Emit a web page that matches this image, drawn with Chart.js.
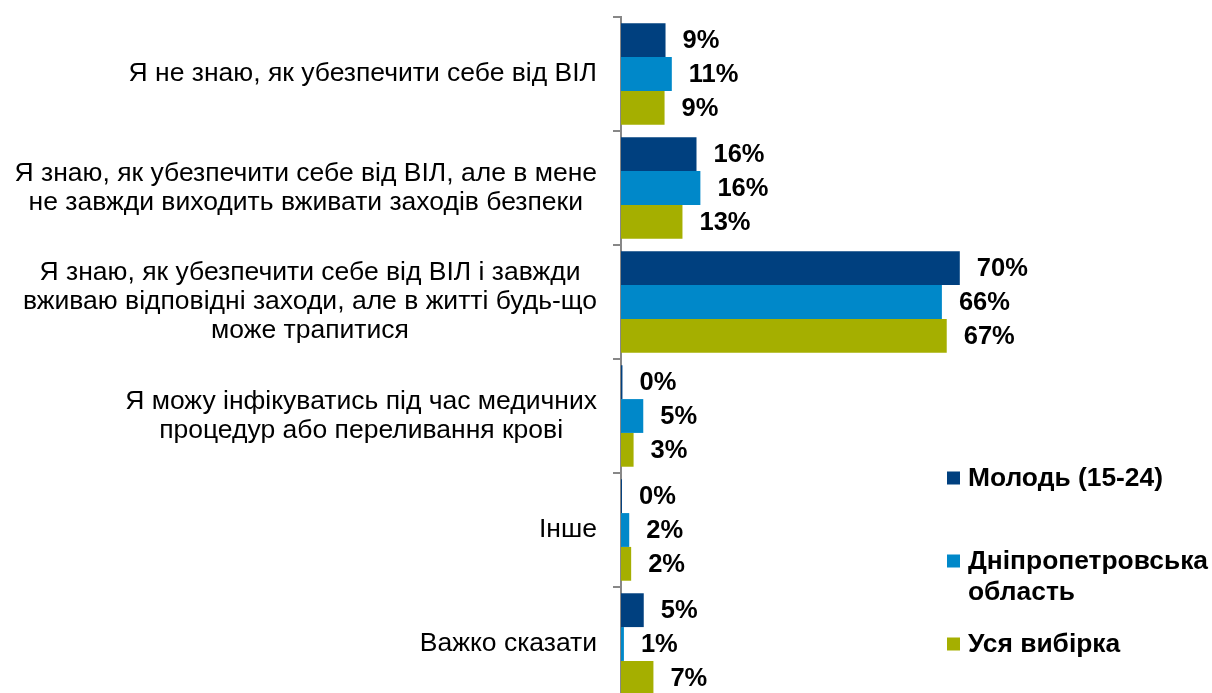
<!DOCTYPE html>
<html>
<head>
<meta charset="utf-8">
<script src="https://cdn.jsdelivr.net/npm/chart.js@4/dist/chart.umd.min.js"></script>
<style>
html,body{margin:0;padding:0;background:#fff;overflow:hidden;}
#c{display:block;}
</style>
</head>
<body>
<canvas id="c" width="1212" height="704"></canvas>
<script>
// ---- data ----
const categories = [
  ["Я не знаю, як убезпечити себе від ВІЛ"],
  ["Я знаю, як убезпечити себе від ВІЛ, але в мене", "не завжди виходить вживати заходів безпеки"],
  ["Я знаю, як убезпечити себе від ВІЛ і завжди", "вживаю відповідні заходи, але в житті будь-що", "може трапитися"],
  ["Я можу інфікуватись під час медичних", "процедур або переливання крові"],
  ["Інше"],
  ["Важко сказати"]
];
const seriesNames = ["Молодь (15-24)", "Дніпропетровська область", "Уся вибірка"];
const youth   = [9.2, 15.6, 70.0, 0.3, 0.2, 4.7];
const region  = [10.5, 16.4, 66.3, 4.6, 1.7, 0.6];
const sample  = [9.0, 12.7, 67.3, 2.6, 2.1, 6.7];
const colors  = ["#00407F", "#0088C9", "#A5AF00"];

const FONT = '"Liberation Sans", Arial, sans-serif';

const yLabelsPlugin = {
  id: 'yLabels',
  afterDraw(chart) {
    const ctx = chart.ctx, y = chart.scales.y;
    ctx.save();
    ctx.font = '26.5px ' + FONT;
    ctx.fillStyle = '#000';
    ctx.textBaseline = 'middle';
    ctx.textAlign = 'center';
    const right = 597, lh = 29;
    categories.forEach((lines, i) => {
      const cy = y.getPixelForValue(i);
      const w = Math.max(...lines.map(l => ctx.measureText(l).width));
      const cx = right - w / 2;
      const y0 = cy - (lines.length - 1) * lh / 2;
      lines.forEach((l, k) => ctx.fillText(l, cx, y0 + k * lh));
    });
    ctx.restore();
  }
};

const valueLabelsPlugin = {
  id: 'valueLabels',
  afterDatasetsDraw(chart) {
    const ctx = chart.ctx;
    ctx.save();
    ctx.font = 'bold 25.5px ' + FONT;
    ctx.fillStyle = '#000';
    ctx.textBaseline = 'middle';
    ctx.textAlign = 'left';
    chart.data.datasets.forEach((ds, di) => {
      chart.getDatasetMeta(di).data.forEach((el, i) => {
        ctx.fillText(Math.round(ds.data[i]) + '%', el.x + 17, el.y + 1);
      });
    });
    ctx.restore();
  }
};

const legendPlugin = {
  id: 'customLegend',
  afterDraw(chart) {
    const ctx = chart.ctx;
    ctx.save();
    ctx.font = 'bold 26.4px ' + FONT;
    ctx.textBaseline = 'middle';
    ctx.textAlign = 'left';
    const centers = [478, 561, 644];
    const sx = 947, tx = 968, maxW = 1212 - tx;
    chart.data.datasets.forEach((ds, i) => {
      const cy = centers[i];
      ctx.fillStyle = ds.backgroundColor;
      ctx.fillRect(sx, cy - 6.5, 13, 13);
      ctx.fillStyle = '#000';
      const words = ds.label.split(' ');
      const lines = [];
      let cur = '';
      words.forEach(w => {
        const t = cur ? cur + ' ' + w : w;
        if (ctx.measureText(t).width > maxW && cur) { lines.push(cur); cur = w; }
        else cur = t;
      });
      lines.push(cur);
      lines.forEach((l, k) => ctx.fillText(l, tx, cy + 1 + k * 31));
    });
    ctx.restore();
  }
};

new Chart(document.getElementById('c'), {
  type: 'bar',
  data: {
    labels: categories.map(l => l.join(' ')),
    datasets: [
      { label: seriesNames[0], data: youth,  backgroundColor: colors[0] },
      { label: seriesNames[1], data: region, backgroundColor: colors[1] },
      { label: seriesNames[2], data: sample, backgroundColor: colors[2] }
    ]
  },
  options: {
    indexAxis: 'y',
    responsive: false,
    animation: false,
    events: [],
    layout: { padding: { top: 17, bottom: 3, left: 0, right: 107 } },
    datasets: { bar: { categoryPercentage: 0.89, barPercentage: 1.0, borderWidth: 0 } },
    plugins: { legend: { display: false }, tooltip: { enabled: false } },
    scales: {
      x: { display: false, min: 0, max: 100 },
      y: {
        offset: true,
        grid: { offset: true, drawOnChartArea: false, drawTicks: true, tickLength: 8, color: '#878787', lineWidth: 2 },
        border: { display: true, color: '#878787', width: 2 },
        ticks: { display: false },
        afterFit(s) { s.width = 621; }
      }
    }
  },
  plugins: [yLabelsPlugin, valueLabelsPlugin, legendPlugin]
});
</script>
</body>
</html>
